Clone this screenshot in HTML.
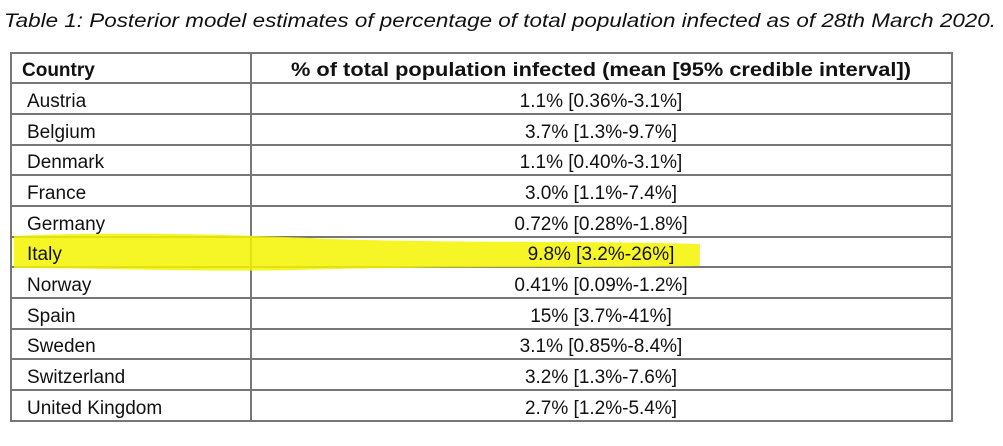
<!DOCTYPE html>
<html><head><meta charset="utf-8"><style>
html,body{margin:0;padding:0;background:#fff;}
svg{display:block}
text{font-family:"Liberation Sans",sans-serif;fill:#111;}
</style></head><body>
<svg width="1003" height="446" viewBox="0 0 1003 446" xmlns="http://www.w3.org/2000/svg">
<text x="4" y="27" font-size="19" font-style="italic" textLength="992" lengthAdjust="spacingAndGlyphs">Table 1: Posterior model estimates of percentage of total population infected as of 28th March 2020.</text>
<g stroke="#777" stroke-width="2" fill="none">
<rect x="11" y="53" width="941" height="368"/>
<line x1="251" y1="53" x2="251" y2="421"/>
<line x1="11" y1="83" x2="952" y2="83"/>
<line x1="11" y1="114" x2="952" y2="114"/>
<line x1="11" y1="145" x2="952" y2="145"/>
<line x1="11" y1="175" x2="952" y2="175"/>
<line x1="11" y1="206" x2="952" y2="206"/>
<line x1="11" y1="237" x2="952" y2="237"/>
<line x1="11" y1="267" x2="952" y2="267"/>
<line x1="11" y1="298" x2="952" y2="298"/>
<line x1="11" y1="329" x2="952" y2="329"/>
<line x1="11" y1="359" x2="952" y2="359"/>
<line x1="11" y1="390" x2="952" y2="390"/>
</g>
<path d="M14 236 C120 231 250 235 330 239 C450 243 600 241 700 244 L700 266 C580 268 420 266 300 270 C200 272 100 268 14 268 Z" fill="#f4f400" opacity="0.85"/>
<g font-size="19">
<text x="22" y="76" font-weight="bold">Country</text>
<text x="601" y="76" font-weight="bold" text-anchor="middle" textLength="620" lengthAdjust="spacingAndGlyphs">% of total population infected (mean [95% credible interval])</text>
<text x="27" y="107">Austria</text>
<text x="27" y="138">Belgium</text>
<text x="27" y="168">Denmark</text>
<text x="27" y="199">France</text>
<text x="27" y="230">Germany</text>
<text x="27" y="260">Italy</text>
<text x="27" y="291">Norway</text>
<text x="27" y="322">Spain</text>
<text x="27" y="352">Sweden</text>
<text x="27" y="383">Switzerland</text>
<text x="27" y="414">United Kingdom</text>
</g>
<g font-size="19" text-anchor="middle">
<text x="601" y="107">1.1% [0.36%-3.1%]</text>
<text x="601" y="138">3.7% [1.3%-9.7%]</text>
<text x="601" y="168">1.1% [0.40%-3.1%]</text>
<text x="601" y="199">3.0% [1.1%-7.4%]</text>
<text x="601" y="230">0.72% [0.28%-1.8%]</text>
<text x="601" y="260">9.8% [3.2%-26%]</text>
<text x="601" y="291">0.41% [0.09%-1.2%]</text>
<text x="601" y="322">15% [3.7%-41%]</text>
<text x="601" y="352">3.1% [0.85%-8.4%]</text>
<text x="601" y="383">3.2% [1.3%-7.6%]</text>
<text x="601" y="414">2.7% [1.2%-5.4%]</text>
</g>
</svg>
</body></html>
